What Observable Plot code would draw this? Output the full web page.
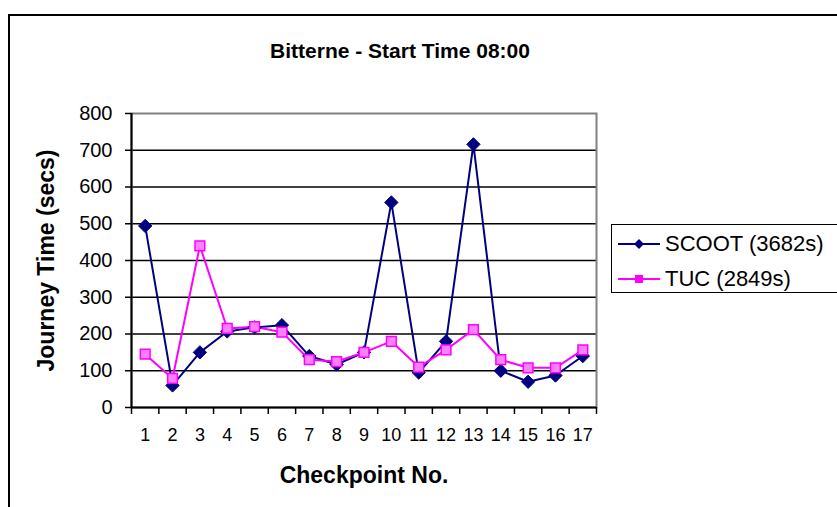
<!DOCTYPE html>
<html>
<head>
<meta charset="utf-8">
<script src="https://cdn.jsdelivr.net/npm/d3@7"></script>
<script src="https://cdn.jsdelivr.net/npm/@observablehq/plot@0.6"></script>
<style>
  html, body { margin: 0; padding: 0; background: #fff; }
  #wrap { position: relative; width: 837px; height: 507px; overflow: hidden; font-family: "Liberation Sans", Arial, sans-serif; }
  #wrap svg.plot { position: absolute; left: 0; top: 0; }
  #border { position: absolute; left: 8px; top: 14px; width: 900px; height: 600px; border-left: 2px solid #000; border-top: 2px solid #000; pointer-events: none; }
  #legend { position: absolute; left: 611px; top: 224px; width: 240px; height: 69px; border: 1.5px solid #000; background: #fff; box-sizing: border-box; }
  .row { position: absolute; left: 0; height: 30px; display: flex; align-items: center; font-size: 22px; color: #000; white-space: nowrap; }
  .row svg { margin-left: 6px; margin-right: 5px; }
</style>
</head>
<body>
<div id="wrap"></div>
<script>
const chartTitle = "Bitterne - Start Time 08:00";
const xTitle = "Checkpoint No.";
const yTitle = "Journey Time (secs)";
const checkpoints = [1,2,3,4,5,6,7,8,9,10,11,12,13,14,15,16,17];
const scoot = [494,60,150,207,218,224,140,117,150,558,95,180,716,100,70,87,140];
const tuc   = [145,79,440,215,220,205,130,125,150,180,110,157,212,130,108,108,157];
const seriesNames = ["SCOOT (3682s)", "TUC (2849s)"];
const seriesColors = ["#000080", "#ff00ff"];
const yTicks = [0,100,200,300,400,500,600,700,800];
const gridValues = [100,200,300,400,500,600,700];
const xBoundaries = [0.5,1.5,2.5,3.5,4.5,5.5,6.5,7.5,8.5,9.5,10.5,11.5,12.5,13.5,14.5,15.5,16.5,17.5];

const scootData = checkpoints.map((c, i) => ({cp: c, v: scoot[i]}));
const tucData = checkpoints.map((c, i) => ({cp: c, v: tuc[i]}));

const chart = Plot.plot({
  width: 837,
  height: 507,
  marginLeft: 131,
  marginRight: 241,
  marginTop: 113,
  marginBottom: 100,
  style: {fontFamily: "'Liberation Sans', Arial, sans-serif", background: "transparent", color: "#000"},
  x: {domain: [0.5, 17.5]},
  y: {domain: [0, 800]},
  marks: [
    Plot.ruleY(gridValues, {stroke: "#000", strokeWidth: 1.5}),
    Plot.frame({stroke: "#808080", strokeWidth: 2}),
    Plot.axisY(yTicks, {tickSize: 6, tickPadding: 13, fontSize: 20, strokeWidth: 1.5, label: null}),
    Plot.axisX(xBoundaries, {tickSize: 7, tickFormat: () => "", strokeWidth: 1.5, label: null}),
    Plot.axisX(checkpoints, {tickSize: 0, tickPadding: 21, fontSize: 18, label: null}),
    Plot.ruleX([0.5], {stroke: "#000", strokeWidth: 2}),
    Plot.ruleY([0], {stroke: "#000", strokeWidth: 2}),
    Plot.line(scootData, {x: "cp", y: "v", stroke: seriesColors[0], strokeWidth: 2}),
    Plot.line(tucData, {x: "cp", y: "v", stroke: seriesColors[1], strokeWidth: 2}),
    Plot.dot(scootData, {x: "cp", y: "v", symbol: "diamond2", r: 6, fill: seriesColors[0], stroke: seriesColors[0], strokeWidth: 1}),
    Plot.dot(tucData, {x: "cp", y: "v", symbol: "square", r: 5.5, fill: "#ff80ff", stroke: seriesColors[1], strokeWidth: 1.5}),
    Plot.text([yTitle], {frameAnchor: "left", dx: -85, rotate: -90, textAnchor: "middle", lineAnchor: "middle", fontSize: 23, fontWeight: "bold"}),
    Plot.text([xTitle], {frameAnchor: "bottom", dy: 68, textAnchor: "middle", lineAnchor: "middle", fontSize: 23, fontWeight: "bold"}),
    Plot.text([chartTitle], {frameAnchor: "top", dy: -62, dx: 36, textAnchor: "middle", lineAnchor: "middle", fontSize: 21, fontWeight: "bold"})
  ]
});
chart.classList.add("plot");
const wrap = document.getElementById("wrap");
wrap.appendChild(chart);

const border = document.createElement("div");
border.id = "border";
wrap.appendChild(border);

// legend
const legend = document.createElement("div");
legend.id = "legend";
seriesNames.forEach((name, i) => {
  const row = document.createElement("div");
  row.className = "row";
  row.style.top = (i === 0 ? 4 : 39) + "px";
  const svgNS = "http://www.w3.org/2000/svg";
  const s = document.createElementNS(svgNS, "svg");
  s.setAttribute("width", 42); s.setAttribute("height", 14);
  const ln = document.createElementNS(svgNS, "line");
  ln.setAttribute("x1", 0); ln.setAttribute("x2", 42); ln.setAttribute("y1", 7); ln.setAttribute("y2", 7);
  ln.setAttribute("stroke", seriesColors[i]); ln.setAttribute("stroke-width", 2);
  s.appendChild(ln);
  if (i === 0) {
    const p = document.createElementNS(svgNS, "path");
    p.setAttribute("d", "M21,2 L26,7 L21,12 L16,7 Z");
    p.setAttribute("fill", seriesColors[0]);
    s.appendChild(p);
  } else {
    const r = document.createElementNS(svgNS, "rect");
    r.setAttribute("x", 17); r.setAttribute("y", 3); r.setAttribute("width", 8); r.setAttribute("height", 8);
    r.setAttribute("fill", seriesColors[1]);
    s.appendChild(r);
  }
  row.appendChild(s);
  const t = document.createElement("span");
  t.textContent = name;
  row.appendChild(t);
  legend.appendChild(row);
});
wrap.appendChild(legend);
</script>
</body>
</html>
